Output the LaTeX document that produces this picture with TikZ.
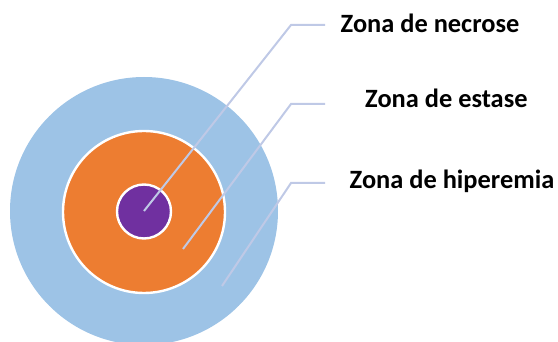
\documentclass[tikz,border=0pt]{standalone}
\usepackage{fontspec}
\setmainfont{Carlito}
\definecolor{zoneblue}{HTML}{9DC3E6}
\definecolor{zoneorange}{HTML}{ED7D31}
\definecolor{zonepurple}{HTML}{7030A0}
\definecolor{leaderc}{HTML}{BFC9E6}
\tikzset{
  x=1pt,y=-1pt,
  zone/.style={circle,inner sep=0pt,outer sep=0pt,draw=white,line width=2.4pt},
  leader/.style={draw=leaderc,line width=2pt,line join=miter},
  lab/.style={font=\bfseries\fontsize{26.4pt}{30pt}\selectfont,text=black,inner sep=0pt,anchor=base west}
}
\begin{document}
\begin{tikzpicture}
\useasboundingbox (0,0) rectangle (558,342);
\begin{scope}
\clip (0,0) rectangle (558,342);
\node[zone,draw=none,fill=zoneblue,minimum size=268pt] (outer) at (144,211) {};
\end{scope}
\node[zone,fill=zoneorange,minimum size=162pt] (mid) at (144,212) {};
\node[zone,fill=zonepurple,minimum size=54pt] (core) at (144,211.5) {};
\coordinate (a0) at (144,211);
\coordinate (a1) at (291,25);
\coordinate (a2) at (325,25);
\coordinate (b0) at (183,249);
\coordinate (b1) at (291,104);
\coordinate (b2) at (325,104);
\coordinate (c0) at (222,286);
\coordinate (c1) at (291,183);
\coordinate (c2) at (325,183);
\draw[leader] (a0) -- (a1) -- (a2);
\draw[leader] (b0) -- (b1) -- (b2);
\draw[leader] (c0) -- (c1) -- (c2);
\node[lab] (t1) at (340.5,32.5) {Zona de necrose};
\node[lab] (t2) at (365,108) {Zona de estase};
\node[lab] (t3) at (349.5,189) {Zona de hiperemia};
\end{tikzpicture}
\end{document}
